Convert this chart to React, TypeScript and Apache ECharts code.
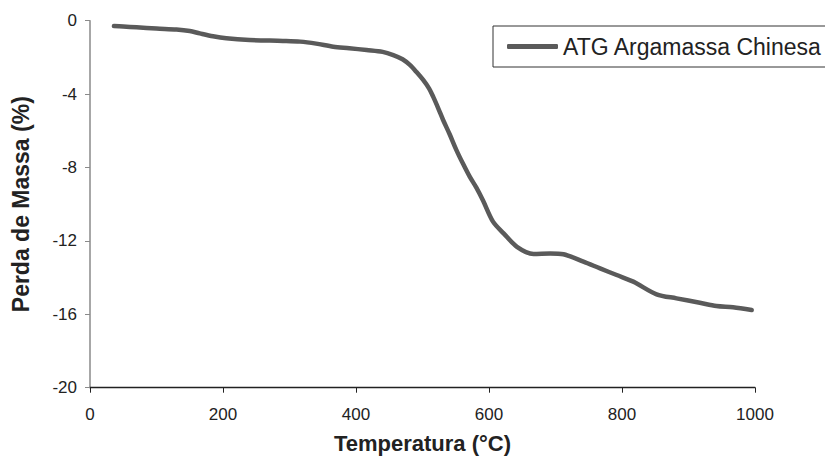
import React, { useEffect, useRef } from "react";
import * as echarts from "echarts";

const temperature = [36, 50, 70, 100, 130, 150, 165, 185, 205, 240, 290, 316, 340, 366, 390, 416, 440, 456, 470, 481, 491, 501, 510, 516, 524, 531, 541, 551, 561, 571, 581, 591, 606, 622, 642, 667, 692, 712, 742, 767, 792, 817, 852, 882, 917, 942, 967, 995];
const massLoss = [-0.29, -0.32, -0.36, -0.43, -0.48, -0.56, -0.69, -0.85, -0.96, -1.05, -1.1, -1.14, -1.25, -1.42, -1.5, -1.6, -1.7, -1.87, -2.1, -2.41, -2.8, -3.23, -3.7, -4.14, -4.8, -5.41, -6.2, -7.05, -7.8, -8.5, -9.1, -9.8, -10.95, -11.59, -12.32, -12.71, -12.68, -12.73, -13.13, -13.5, -13.86, -14.22, -14.91, -15.13, -15.37, -15.55, -15.62, -15.77];
const seriesName = "ATG Argamassa Chinesa";
const xTitle = "Temperatura (°C)";
const yTitle = "Perda de Massa (%)";

export default function App() {
  const ref = useRef<HTMLDivElement>(null);
  useEffect(() => {
    if (!ref.current) return;
    const chart = echarts.init(ref.current, null, { renderer: "svg" });
    const font = "Liberation Sans, Arial, sans-serif";
    chart.setOption({
      animation: false,
      backgroundColor: "#ffffff",
      grid: { left: 90, top: 20.7, right: 70, bottom: 69.3, containLabel: false, outerBoundsMode: "none" },
      legend: {
        left: 493,
        top: 26,
        padding: [9, 12, 9, 14],
        borderColor: "#333333",
        borderWidth: 1,
        borderRadius: 0,
        icon: "roundRect",
        itemWidth: 51,
        itemHeight: 5,
        itemGap: 4,
        textStyle: { fontFamily: font, fontSize: 23, color: "#222222" },
        data: [seriesName],
      },
      xAxis: {
        type: "value",
        min: 0,
        max: 1000,
        interval: 200,
        name: xTitle,
        nameLocation: "middle",
        nameGap: 45,
        nameTextStyle: { fontFamily: font, fontSize: 22, fontWeight: "bold", color: "#222222" },
        axisLine: { show: true, onZero: false, lineStyle: { color: "#222222", width: 1.3 } },
        axisTick: { show: true, inside: false, length: 5, lineStyle: { color: "#222222" } },
        axisLabel: { fontFamily: font, fontSize: 17, color: "#222222", margin: 18, formatter: (v: number) => String(v) },
        splitLine: { show: false },
      },
      yAxis: {
        type: "value",
        min: -20,
        max: 0,
        interval: 4,
        name: yTitle,
        nameLocation: "middle",
        nameGap: 58,
        nameRotate: 90,
        nameTextStyle: { fontFamily: font, fontSize: 23, fontWeight: "bold", color: "#222222" },
        axisLine: { show: true, lineStyle: { color: "#8a8a8a", width: 1.5 } },
        axisTick: { show: true, inside: false, length: 5, lineStyle: { color: "#8a8a8a" } },
        axisLabel: { fontFamily: font, fontSize: 17, color: "#222222", margin: 13, formatter: (v: number) => String(v) },
        splitLine: { show: false },
      },
      series: [
        {
          name: seriesName,
          type: "line",
          data: temperature.map((t, i) => [t, massLoss[i]]),
          symbol: "none",
          smooth: 0.3,
          color: "#5a5a5a",
          lineStyle: { color: "#5a5a5a", width: 4.5, cap: "round", join: "round" },
        },
      ],
    });
    return () => chart.dispose();
  }, []);
  return <div ref={ref} style={{ width: 825, height: 457, position: "absolute", left: 0, top: 0 }} />;
}
